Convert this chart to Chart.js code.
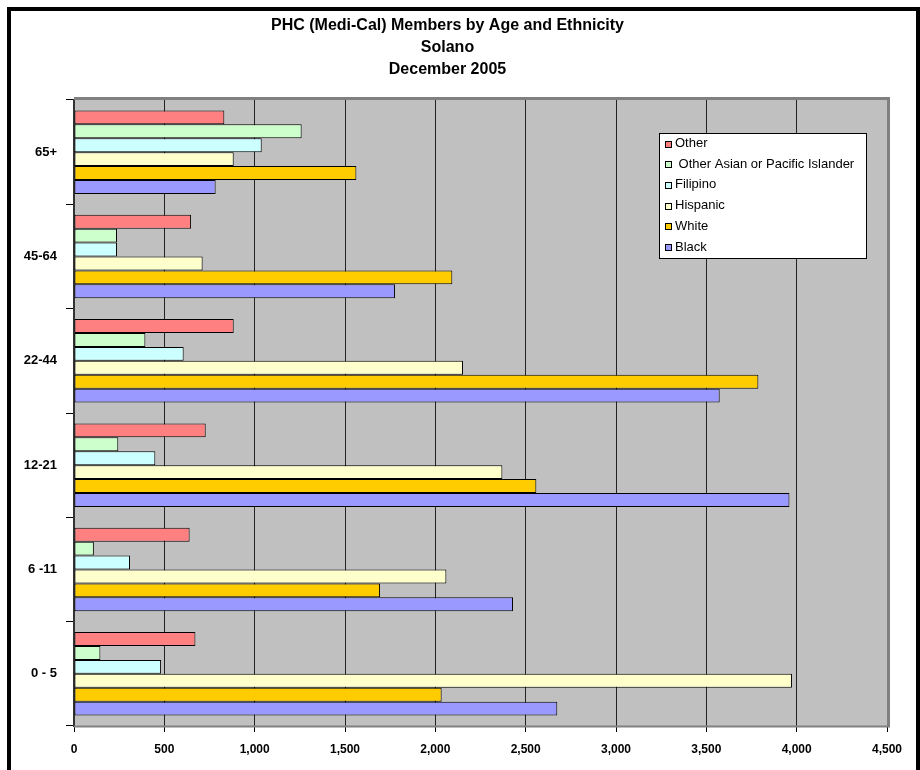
<!DOCTYPE html>
<html>
<head>
	<title>PHC Members by Age and Ethnicity</title>
	<script src="https://cdn.jsdelivr.net/npm/chart.js@4.4.0/dist/chart.umd.min.js"></script>
	<meta charset="utf-8"/>
	<style>
		body { margin: 0; background: #fff; }
		#wrap { position: relative; width: 920px; height: 770px; overflow: hidden; }
		#frame { position: absolute; left: 7px; top: 7px; width: 905px; height: 800px; border: 4px solid #000; }
		#myChart { position: absolute; left: 0; top: 0; }
	</style>
</head>
<body>
    <div id="wrap">
        <div id="frame"></div>
        <canvas id="myChart" width="920" height="770"></canvas>
    </div>

    <script>
        // age groups, top to bottom as in the picture
        var ageGroups = ['65+', '45-64', '22-44', '12-21', '6 -11', '0 - 5'];

        var other      = [832, 648, 884, 729, 640, 672];
        var otherAsian = [1260, 238, 395, 245, 110, 146];
        var filipino   = [1039, 238, 607, 450, 310, 482];
        var hispanic   = [884, 712, 2153, 2371, 2061, 3974];
        var white      = [1563, 2094, 3788, 2559, 1694, 2035];
        var black      = [784, 1777, 3574, 3960, 2430, 2675];

        var seriesNames = ['Other', ' Other Asian or Pacific Islander', 'Filipino', 'Hispanic', 'White', 'Black'];
        var seriesColors = ['#FF8080', '#CCFFCC', '#CCFFFF', '#FFFFCC', '#FFCC00', '#9999FF'];
        var seriesData = [other, otherAsian, filipino, hispanic, white, black];

        var fontFamily = "'Liberation Sans', Arial, sans-serif";

        var datasets = [];
        for (var i = 0; i < seriesNames.length; i++) {
            datasets.push({
                label: seriesNames[i],
                data: seriesData[i],
                backgroundColor: seriesColors[i],
                borderColor: '#000',
                borderWidth: 1,
                borderSkipped: false,
                categoryPercentage: 0.8,
                barPercentage: 1.0
            });
        }

        // gray plot area behind everything
        var plotBack = {
            id: 'plotBack',
            beforeDraw: function (chart) {
                var a = chart.chartArea, ctx = chart.ctx;
                ctx.save();
                ctx.fillStyle = '#C0C0C0';
                ctx.fillRect(a.left, a.top, a.right - a.left, a.bottom - a.top);
                ctx.restore();
            },
            afterDatasetsDraw: function (chart) {
                var a = chart.chartArea, ctx = chart.ctx;
                ctx.save();
                ctx.strokeStyle = '#808080';
                ctx.lineWidth = 3;
                ctx.beginPath();
                ctx.moveTo(a.left, a.top - 1.5);
                ctx.lineTo(a.right + 1.5, a.top - 1.5);
                ctx.lineTo(a.right + 1.5, a.bottom);
                ctx.stroke();
                ctx.lineWidth = 2;
                ctx.beginPath();
                ctx.moveTo(a.left, a.bottom + 0.5);
                ctx.lineTo(a.right + 3, a.bottom + 0.5);
                ctx.stroke();
                ctx.restore();
            }
        };

        // legend box inside the plot, like the original
        var boxLegend = {
            id: 'boxLegend',
            afterDraw: function (chart) {
                var ctx = chart.ctx;
                var x0 = 659, y0 = 133, w = 207, h = 125;
                ctx.save();
                ctx.fillStyle = '#fff';
                ctx.fillRect(x0, y0, w, h);
                ctx.strokeStyle = '#000';
                ctx.lineWidth = 1;
                ctx.strokeRect(x0 + 0.5, y0 + 0.5, w, h);
                ctx.font = '13px ' + fontFamily;
                ctx.textBaseline = 'middle';
                for (var i = 0; i < chart.data.datasets.length; i++) {
                    var ds = chart.data.datasets[i];
                    var y = y0 + 10.5 + i * 20.7;
                    ctx.fillStyle = ds.backgroundColor;
                    ctx.fillRect(x0 + 6, Math.round(y) - 3, 7, 7);
                    ctx.strokeRect(x0 + 6.5, Math.round(y) - 3 + 0.5, 6, 6);
                    ctx.fillStyle = '#000';
                    ctx.fillText(ds.label, x0 + 16, y);
                }
                ctx.restore();
            }
        };

        var chartTarget = document.getElementById('myChart');

        var barChart = new Chart(chartTarget, {
            type: 'bar',
            data: {
                labels: ageGroups,
                datasets: datasets
            },
            plugins: [plotBack, boxLegend],
            options: {
                indexAxis: 'y',
                responsive: false,
                animation: false,
                layout: { padding: { left: 8, right: 33, top: 0, bottom: 0 } },
                plugins: {
                    legend: { display: false },
                    tooltip: { enabled: false },
                    title: {
                        display: true,
                        text: ['PHC (Medi-Cal) Members by Age and Ethnicity', 'Solano', 'December 2005'],
                        color: '#000',
                        font: { family: fontFamily, size: 16, weight: 'bold', lineHeight: '22px' },
                        padding: { top: 15, bottom: 19 }
                    }
                },
                scales: {
                    x: {
                        min: 0,
                        max: 4500,
                        ticks: {
                            stepSize: 500,
                            color: '#000',
                            padding: 10,
                            font: { family: fontFamily, size: 12, weight: 'bold' },
                            callback: function (v) { return v.toLocaleString('en-US'); }
                        },
                        grid: { color: '#222', lineWidth: 1, tickLength: 6, tickColor: '#000' },
                        border: { display: false },
                        afterFit: function (scale) { scale.height = 44; }
                    },
                    y: {
                        ticks: {
                            color: '#000',
                            padding: 9,
                            font: { family: fontFamily, size: 13, weight: 'bold' }
                        },
                        grid: { offset: true, drawOnChartArea: false, tickLength: 8, tickColor: '#000' },
                        border: { display: true, color: '#333', width: 2 },
                        afterFit: function (scale) { scale.width = 66; }
                    }
                }
            }
        });
    </script>

</body>
</html>
